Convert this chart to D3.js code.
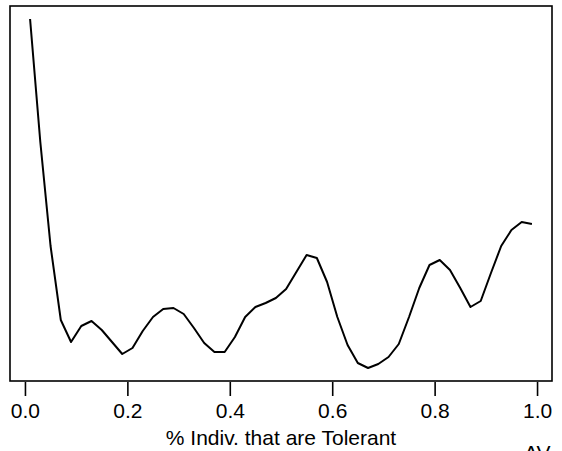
<!DOCTYPE html>
<html><head><meta charset="utf-8">
<script src="https://cdn.jsdelivr.net/npm/d3@7"></script>
<style>html,body{margin:0;padding:0;background:#fff;}svg{display:block;}</style>
</head><body>
<svg id="chart" width="562" height="451"></svg>
<script>
const xValues = [0.01,0.03,0.05,0.07,0.09,0.11,0.13,0.15,0.17,0.19,0.21,0.23,0.25,0.27,0.29,0.31,0.33,0.35,0.37,0.39,0.41,0.43,0.45,0.47,0.49,0.51,0.53,0.55,0.57,0.59,0.61,0.63,0.65,0.67,0.69,0.71,0.73,0.75,0.77,0.79,0.81,0.83,0.85,0.87,0.89,0.91,0.93,0.95,0.97,0.99];
const yValues = [3.81,2.58,1.54,0.80,0.58,0.74,0.79,0.70,0.58,0.46,0.52,0.69,0.83,0.91,0.92,0.86,0.72,0.57,0.48,0.48,0.63,0.83,0.93,0.97,1.02,1.11,1.28,1.45,1.42,1.18,0.83,0.55,0.37,0.32,0.36,0.43,0.56,0.83,1.12,1.35,1.40,1.30,1.12,0.93,0.99,1.27,1.54,1.70,1.78,1.76];
const xTicks = [0.0,0.2,0.4,0.6,0.8,1.0];
const xTickLabels = ["0.0","0.2","0.4","0.6","0.8","1.0"];
const xTitle = "% Indiv. that are Tolerant";
const cornerText = "AV";

const box = {left:10, right:552, top:6, bottom:381};
const svg = d3.select("#chart");
const x = d3.scaleLinear().domain([0.01 - 0.04*0.98, 0.99 + 0.04*0.98]).range([box.left, box.right]);
const y = d3.scaleLinear().domain([0.19, 3.94]).range([box.bottom, box.top]);

const font = "'Liberation Sans', Arial, Helvetica, sans-serif";

// box
svg.append("rect").attr("x", box.left).attr("y", box.top)
  .attr("width", box.right - box.left).attr("height", box.bottom - box.top)
  .attr("fill", "none").attr("stroke", "#000").attr("stroke-width", 1.6);

// axis
const xAxis = d3.axisBottom(x).tickValues(xTicks).tickSize(14).tickPadding(7)
  .tickFormat((d,i) => xTickLabels[i]);
const gx = svg.append("g").attr("transform", `translate(0,${box.bottom + 1})`).call(xAxis);
gx.select(".domain").remove();
gx.selectAll(".tick line").attr("stroke", "#000").attr("stroke-width", 1.6);
gx.selectAll(".tick text").attr("fill", "#000").style("font-family", font).style("font-size", "21px");

// line
const line = d3.line().x((d,i) => x(xValues[i])).y(d => y(d));
svg.append("path").datum(yValues).attr("d", line)
  .attr("fill", "none").attr("stroke", "#000").attr("stroke-width", 2)
  .attr("stroke-linejoin", "round");

// title
svg.append("text").attr("x", (x(0) + x(1)) / 2).attr("y", 445)
  .attr("text-anchor", "middle").style("font-family", font).style("font-size", "21px")
  .text(xTitle);

svg.append("text").attr("x", 524).attr("y", 460)
  .style("font-family", font).style("font-size", "21px").text(cornerText);
</script>
</body></html>
